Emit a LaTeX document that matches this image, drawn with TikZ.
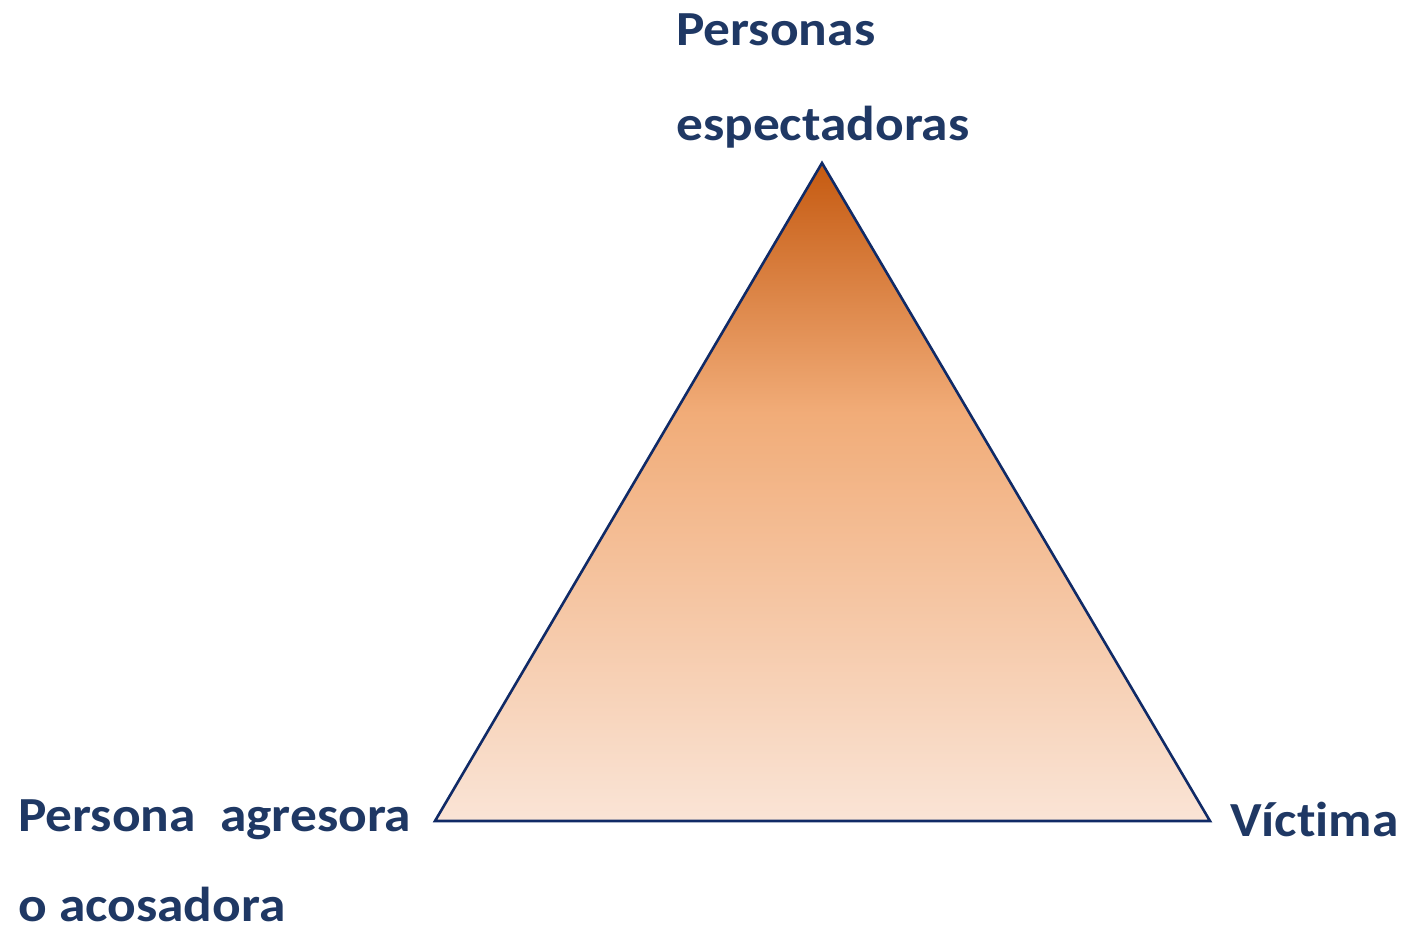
\documentclass[tikz,border=0pt]{standalone}
\usepackage{fontspec}
\setmainfont[FakeStretch=1.09,Ligatures=NoCommon]{Carlito}
\definecolor{navy}{HTML}{1F3864}
\definecolor{edge}{HTML}{102A66}
\definecolor{topc}{HTML}{C55A11}
\definecolor{midc}{HTML}{F1AC78}
\definecolor{botc}{HTML}{FAE4D6}
\pgfdeclareverticalshading{trishade}{100bp}{
  color(0bp)=(botc); color(25bp)=(botc); color(56bp)=(midc); color(75bp)=(topc); color(100bp)=(topc)}
\begin{document}
\begin{tikzpicture}[x=1pt,y=-1pt,
  lbl/.style={anchor=base west,inner sep=0pt,text=navy,font=\fontsize{49}{49}\selectfont\bfseries}]
\useasboundingbox (0,0) rectangle (1403,931);
\coordinate (A) at (822,163);
\coordinate (B) at (435,821);
\coordinate (C) at (1210,821);
\shade[shading=trishade] (A) -- (B) -- (C) -- cycle;
\draw[edge,line width=2.6pt,line join=miter] (A) -- (B) -- (C) -- cycle;
\node[lbl] (t1) at (676,46) {Personas};
\node[lbl] (t2) at (676,141) {espectadoras};
\node[lbl] (l1) at (18,831) {Persona\ \ agresora};
\node[lbl] (l2) at (18,921) {o acosadora};
\node[lbl] (r1) at (1230,836) {Víctima};
\end{tikzpicture}
\end{document}
